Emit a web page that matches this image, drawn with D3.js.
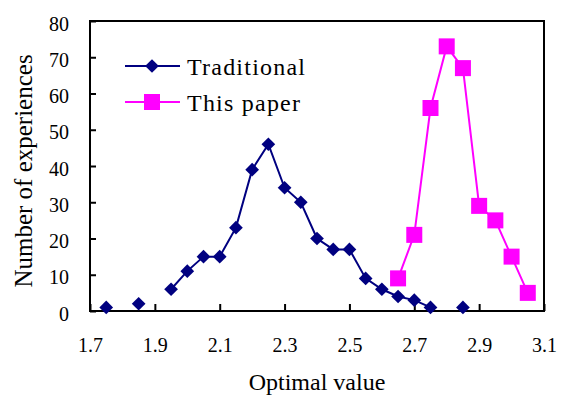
<!DOCTYPE html>
<html>
<head>
<meta charset="utf-8">
<script src="https://cdn.jsdelivr.net/npm/d3@7"></script>
<style>
  body { margin: 0; background: #fff; }
  svg { display: block; font-family: "Liberation Serif", "Times New Roman", serif; }
</style>
</head>
<body>
<svg id="chart" width="561" height="396"></svg>
<script>
const tradX = [1.75, 1.80, 1.85, 1.90, 1.95, 2.00, 2.05, 2.10, 2.15, 2.20, 2.25, 2.30,
               2.35, 2.40, 2.45, 2.50, 2.55, 2.60, 2.65, 2.70, 2.75, 2.80, 2.85];
const traditional = [1, null, 2, null, 6, 11, 15, 15, 23, 39, 46, 34,
                     30, 20, 17, 17, 9, 6, 4, 3, 1, null, 1];
const paperX = [2.65, 2.70, 2.75, 2.80, 2.85, 2.90, 2.95, 3.00, 3.05];
const thisPaper = [9, 21, 56, 73, 67, 29, 25, 15, 5];
const xTicks = [1.7, 1.9, 2.1, 2.3, 2.5, 2.7, 2.9, 3.1];
const yTicks = [0, 10, 20, 30, 40, 50, 60, 70, 80];

const svg = d3.select("#chart");
const x = d3.scaleLinear().domain([1.7, 3.1]).range([90, 544]);
const y = d3.scaleLinear().domain([0, 80]).range([311, 21]);

// axes, ticks point inward
const gx = svg.append("g")
  .attr("transform", `translate(0,${y(0)})`)
  .call(d3.axisBottom(x).tickValues(xTicks).tickFormat(d3.format(".1f"))
    .tickSize(-7).tickPadding(27));
const gy = svg.append("g")
  .attr("transform", `translate(${x(1.7)},0)`)
  .call(d3.axisLeft(y).tickValues(yTicks).tickSize(-6).tickPadding(21));

[gx, gy].forEach(g => {
  g.select(".domain").remove();
  g.selectAll(".tick line").attr("stroke", "#000").attr("stroke-width", 2);
  g.selectAll(".tick text").attr("font-size", 20).attr("fill", "#000")
    .attr("font-family", "Liberation Serif");
});
gy.selectAll(".tick text").attr("dy", "0.45em");

svg.append("rect")
  .attr("x", x(1.7)).attr("y", y(80))
  .attr("width", x(3.1) - x(1.7)).attr("height", y(0) - y(80))
  .attr("fill", "none").attr("stroke", "#000").attr("stroke-width", 2);

// titles
svg.append("text")
  .attr("x", 317).attr("y", 390)
  .attr("text-anchor", "middle").attr("font-size", 24)
  .text("Optimal value");
svg.append("text")
  .attr("transform", "translate(32,171) rotate(-90)")
  .attr("text-anchor", "middle").attr("font-size", 25)
  .text("Number of experiences");

const line = d3.line()
  .defined(d => d[1] != null)
  .x(d => x(d[0]))
  .y(d => y(d[1]));

const tradPts = tradX.map((v, i) => [v, traditional[i]]);
const paperPts = paperX.map((v, i) => [v, thisPaper[i]]);

const navy = "#000080", pink = "#ff00ff";
const diamond = d3.symbol().type(d3.symbolDiamond2).size(120);

svg.append("path").datum(tradPts)
  .attr("d", line).attr("fill", "none")
  .attr("stroke", navy).attr("stroke-width", 2);
svg.selectAll(".trad")
  .data(tradPts.filter(d => d[1] != null))
  .enter().append("path")
  .attr("class", "trad")
  .attr("transform", d => `translate(${x(d[0])},${y(d[1])})`)
  .attr("d", diamond).attr("fill", navy);

svg.append("path").datum(paperPts)
  .attr("d", line).attr("fill", "none")
  .attr("stroke", pink).attr("stroke-width", 2);
svg.selectAll(".paper")
  .data(paperPts)
  .enter().append("rect")
  .attr("class", "paper")
  .attr("x", d => x(d[0]) - 8).attr("y", d => y(d[1]) - 8)
  .attr("width", 16).attr("height", 16)
  .attr("fill", pink);

// legend
const legend = [
  { name: "Traditional", color: navy, shape: "diamond", y: 66, w: 118 },
  { name: "This paper", color: pink, shape: "square", y: 102, w: 113 }
];
const lg = svg.selectAll(".legend").data(legend).enter().append("g")
  .attr("transform", d => `translate(0,${d.y})`);
lg.append("line").attr("x1", 125).attr("x2", 180)
  .attr("stroke", d => d.color).attr("stroke-width", 2);
lg.each(function (d) {
  const g = d3.select(this);
  if (d.shape === "diamond") {
    g.append("path").attr("transform", "translate(152,0)")
      .attr("d", diamond).attr("fill", d.color);
  } else {
    g.append("rect").attr("x", 144).attr("y", -8)
      .attr("width", 16).attr("height", 16).attr("fill", d.color);
  }
});
lg.append("text").attr("x", 187).attr("y", 9)
  .attr("font-size", 24)
  .attr("textLength", d => d.w)
  .text(d => d.name);
</script>
</body>
</html>
